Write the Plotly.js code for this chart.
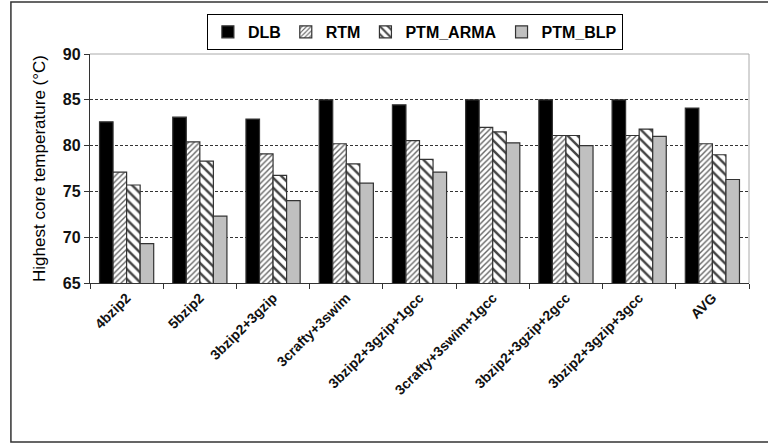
<!DOCTYPE html>
<html>
<head>
<meta charset="utf-8">
<script src="https://cdn.plot.ly/plotly-3.0.1.min.js"></script>
<style>html,body{margin:0;padding:0;background:#fff;}#chart{width:768px;height:444px;}</style>
</head>
<body>
<div id="chart"></div>
<script>
const categories = ["4bzip2","5bzip2","3bzip2+3gzip","3crafty+3swim","3bzip2+3gzip+1gcc","3crafty+3swim+1gcc","3bzip2+3gzip+2gcc","3bzip2+3gzip+3gcc","AVG"];
const seriesNames = ["DLB","RTM","PTM_ARMA","PTM_BLP"];
const dlb  = [82.6, 83.1, 82.9, 85.0, 84.45, 85.0, 85.0, 85.0, 84.1];
const rtm  = [77.1, 80.4, 79.1, 80.2, 80.55, 82.0, 81.1, 81.1, 80.2];
const arma = [75.7, 78.3, 76.75, 78.0, 78.5, 81.5, 81.1, 81.8, 79.0];
const blp  = [69.3, 72.3, 74.0, 75.9, 77.1, 80.3, 80.0, 81.0, 76.3];
const yTicks = [65, 70, 75, 80, 85, 90];

const font = "Liberation Sans, Arial, sans-serif";
const outline = {color: "#333", width: 1.2};

const traces = [
  {type: "bar", name: seriesNames[0], x: categories, y: dlb,
   marker: {color: "#000", line: outline}},
  {type: "bar", name: seriesNames[1], x: categories, y: rtm,
   marker: {color: "#fff", line: outline,
            pattern: {shape: "/", fgcolor: "#666", bgcolor: "#fff", size: 4, solidity: 0.35}}},
  {type: "bar", name: seriesNames[2], x: categories, y: arma,
   marker: {color: "#fff", line: outline,
            pattern: {shape: "\\", fgcolor: "#444", bgcolor: "#fff", size: 7, solidity: 0.35}}},
  {type: "bar", name: seriesNames[3], x: categories, y: blp,
   marker: {color: "#c0c0c0", line: outline}}
];

const layout = {
  width: 768, height: 444,
  margin: {l: 90, r: 19, t: 54, b: 161},
  paper_bgcolor: "#fff", plot_bgcolor: "#fff",
  barmode: "group", bargap: 0.26, bargroupgap: 0,
  font: {family: font, color: "#111"},
  showlegend: true,
  legend: {orientation: "h", x: 0.493, xanchor: "center", y: 1.175, yanchor: "top",
           bordercolor: "#000", borderwidth: 1, bgcolor: "#fff",
           font: {family: font, size: 16, weight: "bold", color: "#000"},
           traceorder: "normal", itemwidth: 30},
  xaxis: {type: "category", tickangle: -45, tickson: "boundaries",
          ticks: "outside", ticklen: 5, tickcolor: "#333",
          showline: true, linecolor: "#333", linewidth: 1.2,
          showgrid: false,
          tickfont: {family: font, size: 14, weight: "bold", color: "#111"}},
  yaxis: {range: [65, 90], tickvals: yTicks, ticktext: yTicks.map(String),
          ticks: "outside", ticklen: 5, tickcolor: "#333",
          showline: true, linecolor: "#333", linewidth: 1.2,
          showgrid: true, gridcolor: "#333", gridwidth: 1, griddash: "3px,2px",
          zeroline: false,
          tickfont: {family: font, size: 16, weight: "bold", color: "#111"},
          title: {text: "Highest core temperature (°C)", standoff: 12,
                  font: {family: font, size: 17, color: "#000"}}},
  shapes: [
    {type: "line", xref: "paper", yref: "paper", x0: 0, x1: 1, y0: 1, y1: 1,
     line: {color: "#aaa", width: 1}},
    {type: "line", xref: "paper", yref: "paper", x0: 1, x1: 1, y0: 0, y1: 1,
     line: {color: "#aaa", width: 1}},
    {type: "rect", xref: "paper", yref: "paper", x0: -0.12, x1: 1.2, y0: -0.694, y1: 1.227,
     line: {color: "#333", width: 1.5}, fillcolor: "rgba(0,0,0,0)"}
  ]
};

Plotly.newPlot("chart", traces, layout, {displayModeBar: false, staticPlot: true});
</script>
</body>
</html>
